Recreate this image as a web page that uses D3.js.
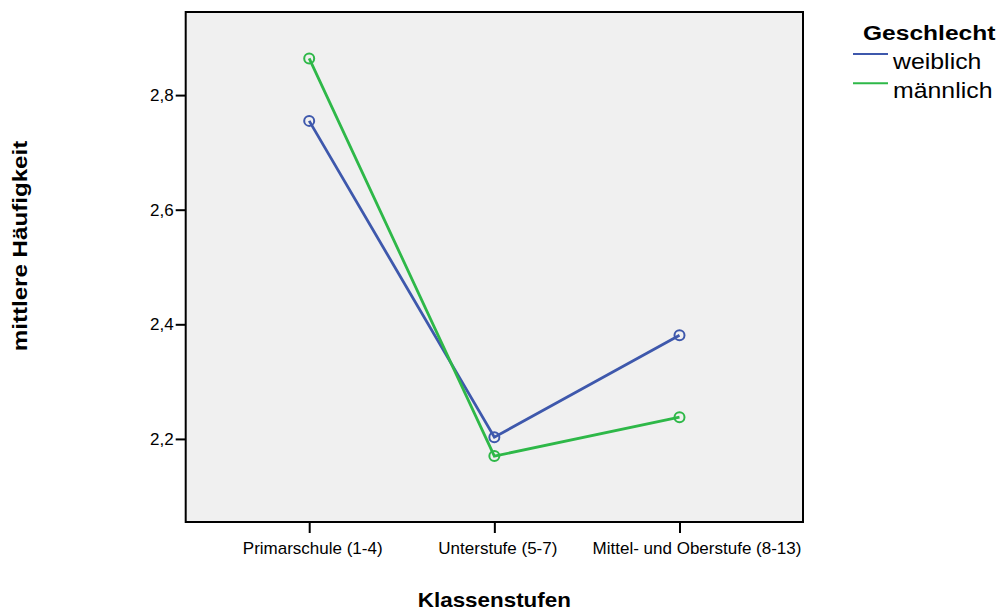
<!DOCTYPE html>
<html><head><meta charset="utf-8">
<script src="https://cdn.jsdelivr.net/npm/d3@7"></script>
<style>
html,body{margin:0;padding:0;background:#fff;}
svg{display:block;font-family:"Liberation Sans",Arial,sans-serif;}
</style></head>
<body>
<svg id="chart" width="1002" height="610"></svg>
<script>
const categories = ["Primarschule (1-4)", "Unterstufe (5-7)", "Mittel- und Oberstufe (8-13)"];
const weiblich = [2.755, 2.203, 2.381];
const maennlich = [2.864, 2.170, 2.238];
const seriesNames = ["weiblich", "männlich"];
const yTicks = [2.2, 2.4, 2.6, 2.8];
const yTickLabels = ["2,2", "2,4", "2,6", "2,8"];
const legendTitle = "Geschlecht";
const xTitle = "Klassenstufen";
const yTitle = "mittlere Häufigkeit";

const colors = ["#3E58AC", "#2EB848"];
const series = [weiblich, maennlich];

const svg = d3.select("#chart");
const L = 185.7, R = 803, T = 12, B = 522;

const x = d3.scalePoint().domain(categories).range([L, R]).padding(0.667);
const y = d3.scaleLinear().domain([2.055, 2.945]).range([B, T]);

svg.append("rect").attr("x", L).attr("y", T).attr("width", R - L).attr("height", B - T)
  .attr("fill", "#F0F0F0").attr("stroke", "#000").attr("stroke-width", 2);

// Y axis
const yAxis = svg.append("g").attr("transform", `translate(${L},0)`)
  .call(d3.axisLeft(y).tickValues(yTicks).tickSize(10).tickPadding(2)
    .tickFormat((d, i) => yTickLabels[i]));
yAxis.select(".domain").remove();
yAxis.selectAll(".tick line").attr("stroke", "#000").attr("stroke-width", 2);
yAxis.selectAll(".tick text").attr("font-size", 17).attr("fill", "#000")
  .attr("font-family", "Liberation Sans, Arial, sans-serif");

// X axis
const labelShift = [3, 3, 17];
const xAxis = svg.append("g").attr("transform", `translate(0,${B})`)
  .call(d3.axisBottom(x).tickSize(11).tickPadding(9));
xAxis.select(".domain").remove();
xAxis.selectAll(".tick line").attr("stroke", "#000").attr("stroke-width", 2);
xAxis.selectAll(".tick text").attr("font-size", 17).attr("fill", "#000")
  .attr("font-family", "Liberation Sans, Arial, sans-serif")
  .attr("dx", (d, i) => labelShift[i]);

// Lines
const line = d3.line().x((d, i) => x(categories[i])).y(d => y(d));
series.forEach((s, k) => {
  svg.append("path").datum(s).attr("d", line).attr("fill", "none")
    .attr("stroke", colors[k]).attr("stroke-width", 2.8);
});
series.forEach((s, k) => {
  svg.selectAll(null).data(s).enter().append("circle")
    .attr("cx", (d, i) => x(categories[i])).attr("cy", d => y(d)).attr("r", 5)
    .attr("fill", "none").attr("stroke", colors[k]).attr("stroke-width", 2);
});

// Axis titles
svg.append("text").attr("x", (L + R) / 2).attr("y", 607).attr("text-anchor", "middle")
  .attr("font-weight", "bold").attr("font-size", 20).attr("transform-origin", `${(L + R) / 2} 607`)
  .attr("transform", "scale(1.12,1)").text(xTitle);
svg.append("text").attr("transform", "translate(27,246) rotate(-90) scale(1.15,1)")
  .attr("text-anchor", "middle").attr("font-weight", "bold").attr("font-size", 21).text(yTitle);

// Legend
const lg = svg.append("g");
lg.append("text").attr("x", 863).attr("y", 40).attr("font-weight", "bold").attr("font-size", 21)
  .attr("transform-origin", "863 40").attr("transform", "scale(1.17,1)").text(legendTitle);
seriesNames.forEach((n, k) => {
  const yy = 54 + k * 29.3;
  lg.append("line").attr("x1", 853).attr("x2", 888).attr("y1", yy).attr("y2", yy)
    .attr("stroke", colors[k]).attr("stroke-width", 2);
  lg.append("text").attr("x", 893).attr("y", yy + 15).attr("font-size", 22)
    .attr("transform-origin", `893 ${yy + 15}`).attr("transform", "scale(1.13,1)").text(n);
});
</script>
</body></html>
